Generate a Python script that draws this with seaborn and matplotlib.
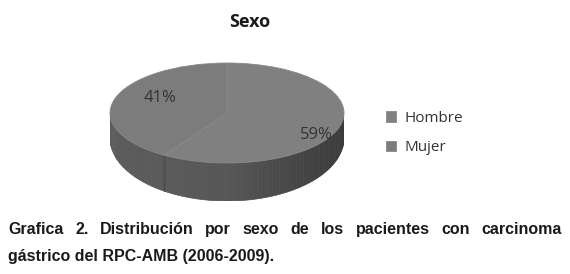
import numpy as np
import seaborn as sns
import matplotlib.pyplot as plt
from matplotlib.patches import Polygon
from matplotlib import font_manager

categories = ["Hombre", "Mujer"]
values = [59, 41]
title = "Sexo"
caption_1 = "Grafica 2. Distribución por sexo de los pacientes con carcinoma"
caption_2 = "gástrico del RPC-AMB (2006-2009)."

sns.set_theme(style="white")
plt.rcParams['font.family'] = ['Open Sans', 'DejaVu Sans']

W, H = 570, 274
fig = plt.figure(figsize=(W / 100, H / 100), dpi=100)

# pie axes: unit circle -> ellipse 234 x 100 px (50 px per unit in y)
depth_side = 0.5    # side thickness at the left/right ends
depth_front = 0.76  # side thickness at the front (fake perspective)
b2 = 1 + depth_front - depth_side
left, right, top = 110, 344, 63
bottom = top + 50 * (2 + depth_front)
ax = fig.add_axes([left / W, 1 - bottom / H, (right - left) / W, (bottom - top) / H])

top_colors = ["#808080", "#7c7c7c"]
wedges, texts, autotexts = ax.pie(values, colors=top_colors, startangle=90,
                                  counterclock=False, autopct='%1.0f%%',
                                  pctdistance=0.75,
                                  wedgeprops=dict(linewidth=0.6, edgecolor="#888888"),
                                  textprops=dict(color="#333333", fontsize=12))
ax.set_aspect('auto')
ax.set_xlim(-1, 1)
ax.set_ylim(-1 - depth_front, 1)
ax.axis('off')

# side of the "3d" pie
bounds = np.cumsum([0] + values) / sum(values) * 360.0
for i in range(len(values)):
    a0 = 90 - bounds[i + 1]
    a1 = 90 - bounds[i]
    for lo, hi in [(a0, a1), (a0 + 360, a1 + 360), (a0 - 360, a1 - 360)]:
        s, e = max(lo, 180), min(hi, 360)
        if e <= s:
            continue
        edges = np.linspace(s, e, int((e - s) / 2) + 2)
        for t0, t1 in zip(edges[:-1], edges[1:]):
            t = np.radians(np.linspace(t0, t1, 4))
            xs = np.cos(t)
            ys = np.sin(t)
            yb = np.sin(t) * b2 - depth_side
            pts = np.column_stack([np.r_[xs, xs[::-1]], np.r_[ys, yb[::-1]]])
            c = np.cos(np.radians((t0 + t1) / 2))
            g = 0.34 - 0.02 * c - 0.09 * max(c, 0)
            ax.add_patch(Polygon(pts, closed=True, facecolor=(g, g, g),
                                 edgecolor=(g, g, g), linewidth=0.5, zorder=0))
        for ang in (s, e):
            if 180 < ang < 360:
                r = np.radians(ang)
                x = np.cos(r)
                ax.plot([x, x], [np.sin(r), np.sin(r) * b2 - depth_side],
                        color="#4a4a4a", lw=0.8, zorder=0.5)

for w in wedges:
    w.set_zorder(2)
autotexts[0].set_position((0.76, -0.44))
autotexts[1].set_position((-0.57, 0.30))
for t in autotexts:
    t.set_zorder(3)

fig.text(250 / W, 1 - 22 / H, title, ha='center', va='center', fontsize=13,
         fontweight='bold', color="#1a1a1a")

leg = fig.legend(wedges, categories, loc='center left',
                 bbox_to_anchor=(372 / W, 1 - 133 / H), frameon=False,
                 handlelength=0.7, handleheight=0.7, handletextpad=0.5,
                 labelspacing=0.95, fontsize=11)
for txt in leg.get_texts():
    txt.set_color("#333333")

# caption, first line justified
cap_font = font_manager.FontProperties(family=['Liberation Sans', 'DejaVu Sans'],
                                       weight='bold', size=11.5)
fig.canvas.draw()
renderer = fig.canvas.get_renderer()
words = caption_1.split()
items = [fig.text(0, 1 - 234 / H, w_, fontproperties=cap_font, va='baseline',
                  ha='left', color="#1a1a1a") for w_ in words]
widths = [it.get_window_extent(renderer).width for it in items]
x0, x1 = 8, 562
gap = (x1 - x0 - sum(widths)) / (len(words) - 1)
x = x0
for it, wd in zip(items, widths):
    it.set_x(x / W)
    x += wd + gap
fig.text(x0 / W, 1 - 261 / H, caption_2, fontproperties=cap_font, va='baseline',
         ha='left', color="#1a1a1a")

fig.savefig("out.png", dpi=100, facecolor="white")
